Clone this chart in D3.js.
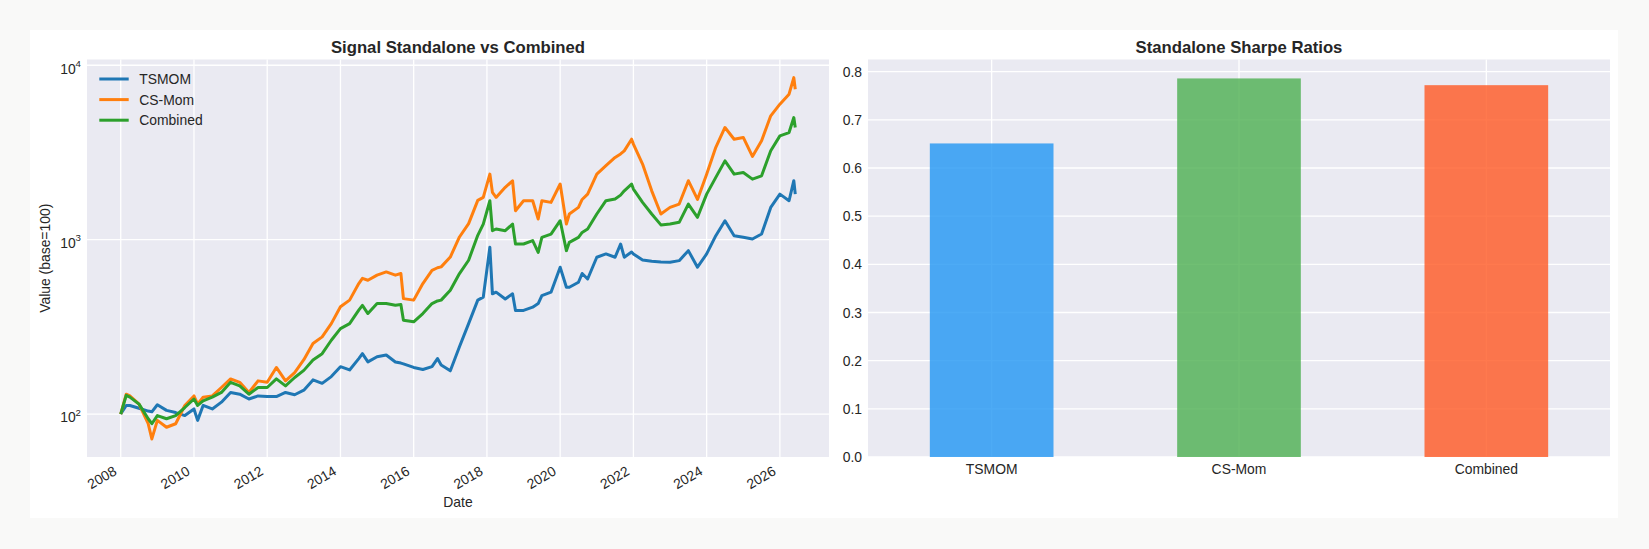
<!DOCTYPE html>
<html>
<head>
<meta charset="utf-8">
<script src="https://cdn.jsdelivr.net/npm/d3@7"></script>
<style>
html, body { margin: 0; padding: 0; background: #f9f9f8; }
svg { display: block; }
text { font-family: "Liberation Sans", Arial, sans-serif; fill: #262626; }
</style>
</head>
<body>
<svg id="chart" width="1649" height="549"></svg>
<script>
// decimal years shared by the three equity curves
var dates = [
    2008.00, 2008.15, 2008.25, 2008.5, 2008.75, 2008.85, 2009.0, 2009.25, 2009.5, 2009.75,
    2010.0, 2010.1, 2010.25, 2010.5, 2010.75, 2011.0, 2011.25, 2011.5, 2011.75, 2012.0,
    2012.25, 2012.5, 2012.75, 2013.0, 2013.25, 2013.5, 2013.75, 2014.0, 2014.25, 2014.5,
    2014.6, 2014.75, 2015.0, 2015.25, 2015.5, 2015.65, 2015.72, 2016.0, 2016.25, 2016.5,
    2016.65, 2016.75, 2017.0, 2017.25, 2017.5, 2017.75, 2017.9, 2018.08, 2018.15, 2018.25,
    2018.5, 2018.7, 2018.78, 2019.0, 2019.25, 2019.4, 2019.5, 2019.75, 2020.0, 2020.17,
    2020.25, 2020.5, 2020.6, 2020.75, 2021.0, 2021.25, 2021.5, 2021.65, 2021.75, 2021.95,
    2022.0, 2022.25, 2022.5, 2022.75, 2023.0, 2023.25, 2023.5, 2023.75, 2024.0, 2024.25,
    2024.5, 2024.75, 2025.0, 2025.25, 2025.5, 2025.75, 2026.0, 2026.25, 2026.38, 2026.42
];

var tsmom = [
    100, 112, 112, 108, 104, 103, 113, 105, 102, 98,
    107, 92, 112, 107, 117, 133, 130, 122, 127, 126,
    126, 133, 129, 137, 157, 150, 164, 187, 179, 208,
    222, 199, 213, 218, 199, 196, 194, 185, 180, 187,
    208, 191, 177, 243, 330, 450, 468, 904, 489, 500,
    457, 489, 393, 393, 410, 430, 478, 500, 695, 533,
    533, 570, 640, 595, 793, 828, 793, 944, 793, 850,
    828, 765, 752, 745, 742, 758, 865, 695, 828, 1054,
    1284, 1054, 1031, 1008, 1077, 1531, 1824, 1672, 2178, 1824
];

var csMom = [
    100, 130, 127, 114, 88, 72, 92, 84, 88, 112,
    127, 114, 125, 127, 142, 159, 152, 133, 155, 152,
    185, 155, 173, 205, 254, 277, 330, 412, 450, 560,
    600, 585, 626, 653, 626, 640, 459, 450, 560, 667,
    690, 698, 795, 1036, 1235, 1680, 1747, 2377, 1866, 1747,
    1995, 2176, 1466, 1672, 1672, 1313, 1672, 1636, 2084, 1229,
    1403, 1531, 1700, 1824, 2377, 2655, 2960, 3100, 3230, 3768,
    3530, 2712, 1905, 1403, 1531, 1600, 2178, 1700, 2375, 3383,
    4397, 3767, 3855, 3000, 3690, 5128, 5984, 6827, 8500, 7280
];

var combined = [
    100, 128, 125, 114, 94, 88, 98, 94, 98, 109,
    122, 112, 119, 125, 133, 152, 145, 130, 142, 142,
    159, 145, 162, 178, 204, 222, 265, 309, 330, 394,
    420, 377, 430, 430, 421, 425, 345, 338, 377, 430,
    445, 450, 513, 639, 762, 1059, 1229, 1672, 1126, 1151,
    1126, 1229, 944, 944, 987, 846, 1031, 1077, 1284, 865,
    965, 1031, 1100, 1151, 1403, 1672, 1710, 1800, 1905, 2084,
    1950, 1636, 1403, 1215, 1229, 1257, 1600, 1343, 1824, 2275,
    2830, 2375, 2428, 2224, 2323, 3236, 3937, 4112, 5012, 4397
];

var seriesNames = ["TSMOM", "CS-Mom", "Combined"];
var seriesColors = ["#1f77b4", "#ff7f0e", "#2ca02c"];

var sharpeLabels = ["TSMOM", "CS-Mom", "Combined"];
var sharpeValues = [0.651, 0.786, 0.772];
var barColors = ["#2196F3", "#4CAF50", "#FF5722"];

var yearTicks = [2008, 2010, 2012, 2014, 2016, 2018, 2020, 2022, 2024, 2026];
var logTicks = [100, 1000, 10000];
var sharpeTicks = [0, 0.1, 0.2, 0.3, 0.4, 0.5, 0.6, 0.7, 0.8];

var svg = d3.select("#chart");
var bg = "#eaeaf2";
var gridColor = "#ffffff";

// white figure card
svg.append("rect")
    .attr("x", 30).attr("y", 30)
    .attr("width", 1588).attr("height", 488)
    .attr("fill", "#ffffff");

//----- left panel: equity curves on log axis -----
var left = { x0: 87, x1: 829, y0: 59.5, y1: 457 };

var xExt = d3.extent(dates);
var xPad = (xExt[1] - xExt[0]) * 0.05;
var x = d3.scaleLinear()
    .domain([xExt[0] - xPad, xExt[1] + xPad])
    .range([left.x0, left.x1]);

var allVals = tsmom.concat(csMom, combined);
var lMin = Math.log10(d3.min(allVals));
var lMax = Math.log10(d3.max(allVals));
var lPad = (lMax - lMin) * 0.05;
var y = d3.scaleLog()
    .domain([Math.pow(10, lMin - lPad), Math.pow(10, lMax + lPad)])
    .range([left.y1, left.y0]);

var gl = svg.append("g");
gl.append("rect")
    .attr("x", left.x0).attr("y", left.y0)
    .attr("width", left.x1 - left.x0).attr("height", left.y1 - left.y0)
    .attr("fill", bg);

gl.selectAll(".vgrid").data(yearTicks).enter().append("line")
    .attr("x1", function(d) { return x(d); })
    .attr("x2", function(d) { return x(d); })
    .attr("y1", left.y0).attr("y2", left.y1)
    .attr("stroke", gridColor).attr("stroke-width", 1.3);

gl.selectAll(".hgrid").data(logTicks).enter().append("line")
    .attr("x1", left.x0).attr("x2", left.x1)
    .attr("y1", function(d) { return y(d); })
    .attr("y2", function(d) { return y(d); })
    .attr("stroke", gridColor).attr("stroke-width", 1.3);

var series = [tsmom, csMom, combined];
var line = d3.line()
    .x(function(d) { return x(d[0]); })
    .y(function(d) { return y(d[1]); });

for (var i = 0; i < series.length; i++) {
    var pts = dates.map(function(dt, j) { return [dt, series[i][j]]; });
    gl.append("path")
        .attr("d", line(pts))
        .attr("fill", "none")
        .attr("stroke", seriesColors[i])
        .attr("stroke-width", 3)
        .attr("stroke-linejoin", "round");
}

// x tick labels, rotated like autofmt_xdate
gl.selectAll(".xlab").data(yearTicks).enter().append("text")
    .attr("transform", function(d) { return "translate(" + (x(d) - 3) + ",474) rotate(-30)"; })
    .attr("text-anchor", "end")
    .attr("font-size", "13.9px")
    .text(function(d) { return d; });

// y tick labels as 10^n
var ylab = gl.selectAll(".ylab").data(logTicks).enter().append("text")
    .attr("x", left.x0 - 6)
    .attr("y", function(d) { return y(d) + 8.3; })
    .attr("text-anchor", "end")
    .attr("font-size", "13.9px");
ylab.append("tspan").text("10");
ylab.append("tspan")
    .attr("dy", -6.5)
    .attr("font-size", "9.7px")
    .text(function(d) { return Math.round(Math.log10(d)); });

gl.append("text")
    .attr("x", (left.x0 + left.x1) / 2).attr("y", 52.7)
    .attr("text-anchor", "middle")
    .attr("font-size", "16.7px").attr("font-weight", "bold")
    .text("Signal Standalone vs Combined");

gl.append("text")
    .attr("transform", "translate(50," + ((left.y0 + left.y1) / 2) + ") rotate(-90)")
    .attr("text-anchor", "middle")
    .attr("font-size", "13.9px")
    .text("Value (base=100)");

gl.append("text")
    .attr("x", (left.x0 + left.x1) / 2).attr("y", 507)
    .attr("text-anchor", "middle")
    .attr("font-size", "13.9px")
    .text("Date");

// legend, no frame
for (var k = 0; k < seriesNames.length; k++) {
    var ly = 79 + k * 20.6;
    gl.append("line")
        .attr("x1", 99.3).attr("x2", 128.7)
        .attr("y1", ly).attr("y2", ly)
        .attr("stroke", seriesColors[k]).attr("stroke-width", 3);
    gl.append("text")
        .attr("x", 139.3).attr("y", ly + 5)
        .attr("font-size", "13.9px")
        .text(seriesNames[k]);
}

//----- right panel: Sharpe bars -----
var right = { x0: 868, x1: 1610, y0: 59.5, y1: 457 };

var xb = d3.scaleBand()
    .domain(sharpeLabels)
    .range([right.x0, right.x1])
    .paddingInner(0.5)
    .paddingOuter(0.25);

var yb = d3.scaleLinear()
    .domain([0, d3.max(sharpeValues) * 1.05])
    .range([right.y1, right.y0]);

var gr = svg.append("g");
gr.append("rect")
    .attr("x", right.x0).attr("y", right.y0)
    .attr("width", right.x1 - right.x0).attr("height", right.y1 - right.y0)
    .attr("fill", bg);

gr.selectAll(".vgrid").data(sharpeLabels).enter().append("line")
    .attr("x1", function(d) { return xb(d) + xb.bandwidth() / 2; })
    .attr("x2", function(d) { return xb(d) + xb.bandwidth() / 2; })
    .attr("y1", right.y0).attr("y2", right.y1)
    .attr("stroke", gridColor).attr("stroke-width", 1.3);

gr.selectAll(".hgrid").data(sharpeTicks).enter().append("line")
    .attr("x1", right.x0).attr("x2", right.x1)
    .attr("y1", function(d) { return yb(d); })
    .attr("y2", function(d) { return yb(d); })
    .attr("stroke", gridColor).attr("stroke-width", 1.3);

gr.selectAll(".bar").data(sharpeValues).enter().append("rect")
    .attr("x", function(d, i) { return xb(sharpeLabels[i]); })
    .attr("y", function(d) { return yb(d); })
    .attr("width", xb.bandwidth())
    .attr("height", function(d) { return yb(0) - yb(d); })
    .attr("fill", function(d, i) { return barColors[i]; })
    .attr("fill-opacity", 0.8);

gr.selectAll(".ylab").data(sharpeTicks).enter().append("text")
    .attr("x", right.x0 - 6)
    .attr("y", function(d) { return yb(d) + 5; })
    .attr("text-anchor", "end")
    .attr("font-size", "13.9px")
    .text(function(d) { return d3.format(".1f")(d); });

gr.selectAll(".xlab").data(sharpeLabels).enter().append("text")
    .attr("x", function(d) { return xb(d) + xb.bandwidth() / 2; })
    .attr("y", 474)
    .attr("text-anchor", "middle")
    .attr("font-size", "13.9px")
    .text(function(d) { return d; });

gr.append("text")
    .attr("x", (right.x0 + right.x1) / 2).attr("y", 52.7)
    .attr("text-anchor", "middle")
    .attr("font-size", "16.7px").attr("font-weight", "bold")
    .text("Standalone Sharpe Ratios");
</script>
</body>
</html>
